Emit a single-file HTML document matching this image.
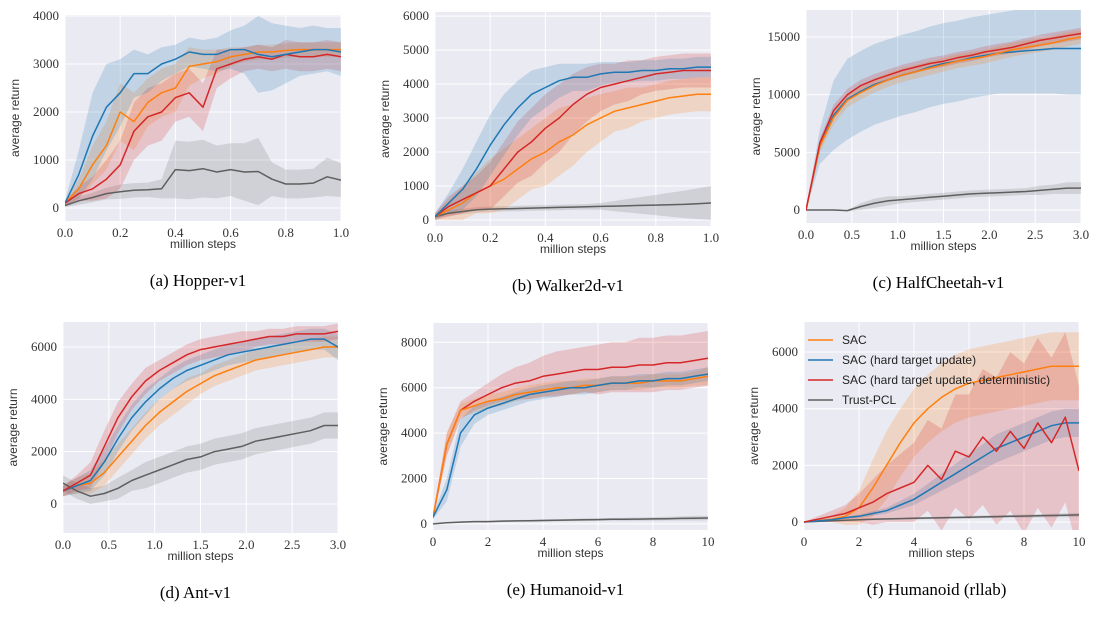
<!DOCTYPE html>
<html><head><meta charset="utf-8"><style>
body{margin:0;background:#fff;}
svg text{font-family:"Liberation Serif",serif;}
.sans{font-family:"Liberation Sans","DejaVu Sans",sans-serif !important;}
</style></head><body>
<svg id="fig" width="1093" height="613" viewBox="0 0 1093 613" xmlns="http://www.w3.org/2000/svg"></svg>
<script>
// ---- data ----
const xA=[0,0.05,0.1,0.15,0.2,0.25,0.3,0.35,0.4,0.45,0.5,0.55,0.6,0.65,0.7,0.75,0.8,0.85,0.9,0.95,1.0];
const xC=[0,0.15,0.3,0.45,0.6,0.75,0.9,1.05,1.2,1.35,1.5,1.65,1.8,1.95,2.1,2.25,2.4,2.55,2.7,2.85,3.0];
const xE=[0,0.5,1,1.5,2,2.5,3,3.5,4,4.5,5,5.5,6,6.5,7,7.5,8,8.5,9,9.5,10];
// Hopper
const hopBlue=[100,700,1500,2100,2400,2800,2800,3000,3100,3250,3200,3200,3300,3300,3200,3150,3200,3250,3300,3300,3250];
const hopBlueS=[50,500,900,900,700,500,400,350,300,300,300,350,400,500,800,700,600,500,500,450,500];
const hopOrange=[100,400,900,1300,2000,1800,2200,2400,2500,2950,3000,3050,3150,3200,3250,3250,3280,3300,3300,3300,3300];
const hopOrangeS=[50,200,400,500,600,600,500,500,500,400,300,250,200,150,150,150,150,150,150,150,150];
const hopRed=[100,300,400,600,900,1600,1900,2000,2300,2400,2100,2900,3000,3100,3150,3100,3200,3150,3150,3200,3150];
const hopRedS=[50,150,250,400,500,600,600,600,500,500,500,400,300,250,250,250,300,300,300,300,300];
const hopGray=[50,150,220,300,340,370,380,400,800,780,820,750,800,750,760,600,500,500,520,650,580];
const hopGrayS=[30,80,100,120,150,150,150,200,600,600,600,550,550,600,700,350,300,300,300,400,350];
// Walker
const walBlue=[100,500,900,1500,2200,2800,3300,3700,3900,4100,4200,4200,4300,4350,4350,4400,4400,4450,4450,4500,4500];
const walBlueS=[100,300,600,800,900,900,800,700,600,500,400,400,350,300,300,300,300,300,300,300,300];
const walOrange=[100,300,500,800,1000,1200,1500,1800,2000,2300,2500,2800,3000,3200,3300,3400,3500,3600,3650,3700,3700];
const walOrangeS=[100,300,500,600,800,900,900,900,1000,1000,900,800,700,600,600,500,500,500,500,500,500];
const walRed=[100,400,600,800,1000,1500,2000,2300,2700,3000,3400,3700,3900,4000,4100,4200,4300,4350,4400,4400,4400];
const walRedS=[100,300,400,500,700,800,900,1000,1000,1000,900,800,700,600,600,500,500,500,500,500,500];
const walGray=[100,200,250,300,320,330,340,350,360,370,380,390,400,410,420,430,440,450,460,480,500];
const walGrayS=[50,80,80,80,80,80,80,80,80,80,80,80,100,150,200,250,300,350,400,450,500];
// HalfCheetah
const chOrange=[0,5500,8000,9500,10200,10800,11300,11700,12000,12300,12600,12900,13100,13300,13600,13900,14100,14300,14500,14800,15000];
const chOrangeS=[0,500,600,600,600,600,600,600,600,600,600,600,600,600,600,600,600,600,600,600,600];
const chBlue=[0,5500,8200,9600,10300,10900,11300,11700,12000,12400,12700,12900,13200,13400,13600,13700,13800,13900,14000,14000,14000];
const chBlueS=[0,1500,3000,3500,3500,3500,3500,3500,3500,3500,3500,3500,3500,3500,3500,3600,3700,3800,3900,4000,4000];
const chRed=[0,5800,8600,10000,10800,11300,11700,12100,12400,12700,12900,13200,13400,13700,13900,14100,14400,14700,14900,15100,15300];
const chRedS=[0,400,500,500,500,500,500,500,500,500,500,500,500,500,500,500,500,500,500,500,500];
const chGray=[0,0,0,-50,300,600,800,900,1000,1100,1200,1300,1400,1450,1500,1550,1600,1700,1800,1900,1900];
const chGrayS=[0,0,0,50,300,400,400,300,300,300,300,300,300,300,300,300,300,400,400,500,500];
// Ant
const antOrange=[500,700,800,1200,1800,2400,3000,3500,3900,4300,4600,4900,5100,5300,5500,5600,5700,5800,5900,6000,6000];
const antOrangeS=[200,300,400,500,500,500,500,500,500,500,400,400,400,400,400,400,400,400,400,400,400];
const antBlue=[500,700,900,1600,2500,3300,3900,4400,4800,5100,5300,5500,5700,5800,5900,6000,6100,6200,6300,6300,6000];
const antBlueS=[200,300,400,500,500,500,500,400,400,400,400,400,400,400,400,400,400,400,400,400,500];
const antRed=[500,800,1100,2200,3300,4100,4700,5100,5400,5700,5900,6000,6100,6200,6300,6400,6400,6500,6500,6500,6600];
const antRedS=[200,300,500,600,600,500,500,400,400,400,400,400,400,400,300,300,300,300,300,300,300];
const antGray=[800,500,300,400,600,900,1100,1300,1500,1700,1800,2000,2100,2200,2400,2500,2600,2700,2800,3000,3000];
const antGrayS=[300,300,300,300,400,400,500,500,500,500,500,500,500,500,500,500,500,500,500,500,500];
// Humanoid
const humOrange=[300,3500,5000,5200,5400,5500,5700,5800,5900,6000,6000,6100,6100,6200,6200,6200,6300,6300,6300,6400,6500];
const humOrangeS=[100,500,300,300,300,300,300,300,300,300,300,300,300,300,300,300,300,300,300,300,400];
const humBlue=[300,1500,4000,4800,5100,5300,5500,5700,5800,5900,6000,6000,6100,6200,6200,6300,6300,6400,6400,6500,6600];
const humBlueS=[100,500,600,400,300,300,300,300,300,300,300,300,300,300,300,300,300,300,300,300,300];
const humRed=[300,3500,5000,5400,5700,6000,6200,6300,6500,6600,6700,6800,6800,6900,6900,7000,7000,7100,7100,7200,7300];
const humRedS=[100,500,400,400,500,600,700,800,900,1000,1000,1000,1100,1100,1100,1200,1200,1200,1200,1200,1200];
const humGray=[0,50,80,100,100,120,130,140,150,160,170,180,190,200,200,210,220,230,240,250,260];
const humGrayS=[20,30,30,30,40,40,40,40,50,50,50,60,60,60,70,70,80,80,90,100,100];
// Humanoid rllab
const rlOrange=[0,50,100,200,500,1200,2000,2800,3500,4000,4400,4700,4900,5000,5100,5200,5300,5400,5500,5500,5500];
const rlOrangeS=[0,50,100,300,600,1000,1200,1200,1200,1200,1200,1200,1200,1200,1200,1200,1200,1200,1200,1200,1200];
const rlBlue=[0,40,80,150,200,300,400,600,800,1100,1400,1700,2000,2300,2600,2800,3000,3200,3400,3500,3500];
const rlBlueS=[0,20,30,40,60,80,100,150,200,250,300,350,400,450,500,500,500,500,500,500,500];
const rlRed=[0,100,200,300,500,700,1000,1200,1400,2000,1500,2500,2300,3000,2500,3200,2600,3500,2800,3700,1800];
const rlRedS=[0,100,200,300,500,800,1000,1200,1400,1600,1800,2000,2200,2400,2600,2800,3000,3000,3000,3000,3000];
const rlGray=[0,20,40,60,80,100,110,120,130,140,150,160,170,180,190,200,210,220,230,240,250];
const rlGrayS=[0,10,20,20,30,30,30,30,40,40,40,40,50,50,50,50,60,60,60,70,70];
// ticks
const tickX1=[0,0.2,0.4,0.6,0.8,1.0], tickX1L=["0.0","0.2","0.4","0.6","0.8","1.0"];
const tickX3=[0,0.5,1,1.5,2,2.5,3], tickX3L=["0.0","0.5","1.0","1.5","2.0","2.5","3.0"];
const tickX10=[0,2,4,6,8,10], tickX10L=["0","2","4","6","8","10"];
const tickYa=[0,1000,2000,3000,4000];
const tickYb=[0,1000,2000,3000,4000,5000,6000];
const tickYc=[0,5000,10000,15000];
const tickYd=[0,2000,4000,6000];
const tickYe=[0,2000,4000,6000,8000];
const tickYf=[0,2000,4000,6000];

const COL={orange:'#ff7f0e',blue:'#1f77b4',red:'#d62728',gray:'#5f5f5f'};
const NS='http://www.w3.org/2000/svg';
const svg=document.getElementById('fig');
const defs=document.createElementNS(NS,'defs');svg.appendChild(defs);
function mk(tag,attrs,parent){const e=document.createElementNS(NS,tag);for(const k in attrs)e.setAttribute(k,attrs[k]);(parent||svg).appendChild(e);return e;}

const panels=[
 {id:'hopper',cap:'(a)  Hopper-v1',L:65,R:341,T:15,B:221,x0:0,x1:1,y0:-270,y1:4020,xs:xA,xt:tickX1,xl:tickX1L,yt:tickYa,
  ser:[['gray',hopGray,hopGrayS],['orange',hopOrange,hopOrangeS],['red',hopRed,hopRedS],['blue',hopBlue,hopBlueS]]},
 {id:'walker',cap:'(b)  Walker2d-v1',L:435,R:711,T:12,B:226,x0:0,x1:1,y0:-176,y1:6120,xs:xA,xt:tickX1,xl:tickX1L,yt:tickYb,
  ser:[['gray',walGray,walGrayS],['orange',walOrange,walOrangeS],['red',walRed,walRedS],['blue',walBlue,walBlueS]]},
 {id:'halfcheetah',cap:'(c)  HalfCheetah-v1',L:806,R:1081,T:10,B:223,x0:0,x1:3,y0:-1127,y1:17340,xs:xC,xt:tickX3,xl:tickX3L,yt:tickYc,
  ser:[['gray',chGray,chGrayS],['blue',chBlue,chBlueS],['orange',chOrange,chOrangeS],['red',chRed,chRedS]]},
 {id:'ant',cap:'(d)  Ant-v1',L:63,R:338,T:322,B:533,x0:0,x1:3,y0:-1108,y1:6955,xs:xC,xt:tickX3,xl:tickX3L,yt:tickYd,
  ser:[['gray',antGray,antGrayS],['orange',antOrange,antOrangeS],['blue',antBlue,antBlueS],['red',antRed,antRedS]]},
 {id:'humanoid',cap:'(e)  Humanoid-v1',L:433,R:708,T:323,B:530,x0:0,x1:10,y0:-270,y1:8850,xs:xE,xt:tickX10,xl:tickX10L,yt:tickYe,
  ser:[['gray',humGray,humGrayS],['red',humRed,humRedS],['orange',humOrange,humOrangeS],['blue',humBlue,humBlueS]]},
 {id:'humanoid-rllab',cap:'(f)  Humanoid (rllab)',L:804,R:1079,T:322,B:530,x0:0,x1:10,y0:-282,y1:7060,xs:xE,xt:tickX10,xl:tickX10L,yt:tickYf,
  ser:[['gray',rlGray,rlGrayS],['orange',rlOrange,rlOrangeS],['blue',rlBlue,rlBlueS],['red',rlRed,rlRedS]]}
];

panels.forEach(p=>{
  const g=mk('g',{});
  
  
  const cp0=mk('clipPath',{id:'clip-'+p.id},defs);
  mk('rect',{x:p.L,y:p.T,width:p.R-p.L,height:p.B-p.T},cp0);
  const sx=v=>p.L+(v-p.x0)/(p.x1-p.x0)*(p.R-p.L);
  const sy=v=>p.B-(v-p.y0)/(p.y1-p.y0)*(p.B-p.T);
  const bg=mk('rect',{x:p.L,y:p.T,width:p.R-p.L,height:p.B-p.T,fill:'#eaeaf2'},g);
  
  
  p.xt.forEach((t,i)=>{
    mk('line',{x1:sx(t),x2:sx(t),y1:p.T,y2:p.B,stroke:'#fff','stroke-width':1},g);
    const tx=mk('text',{x:sx(t),y:p.B+16,'text-anchor':'middle','font-size':13,fill:'#333'},g);
    tx.textContent=p.xl[i];
    
    
  });
  p.yt.forEach(t=>{
    mk('line',{x1:p.L,x2:p.R,y1:sy(t),y2:sy(t),stroke:'#fff','stroke-width':1},g);
    const ty=mk('text',{x:p.L-6,y:sy(t)+4,'text-anchor':'end','font-size':13,fill:'#333'},g);
    ty.textContent=String(t);
    
    
  });
  const dg=mk('g',{'clip-path':'url(#clip-'+p.id+')'},g);
  p.ser.forEach(([c,m,s])=>{
    let up='',lo='';
    p.xs.forEach((x,i)=>{up+=(i?'L':'M')+sx(x).toFixed(1)+','+sy(m[i]+s[i]).toFixed(1);});
    for(let i=p.xs.length-1;i>=0;i--){lo+='L'+sx(p.xs[i]).toFixed(1)+','+sy(m[i]-s[i]).toFixed(1);}
    const band=mk('path',{d:up+lo+'Z',fill:COL[c],'fill-opacity':c==='gray'?0.18:0.2,stroke:'none'},dg);
    
    
  });
  p.ser.forEach(([c,m])=>{
    let d='';
    p.xs.forEach((x,i)=>{d+=(i?'L':'M')+sx(x).toFixed(1)+','+sy(m[i]).toFixed(1);});
    const ln=mk('path',{d:d,fill:'none',stroke:COL[c],'stroke-width':1.5,'stroke-linejoin':'round'},dg);
    
    
  });
  const xt=mk('text',{x:(p.L+p.R)/2,y:p.B+27,'text-anchor':'middle','font-size':12,fill:'#333',class:'sans'},g);
  xt.textContent='million steps';
  
  
  const cy=(p.T+p.B)/2, cx=p.L-46;
  const yt=mk('text',{x:cx,y:cy,'text-anchor':'middle','font-size':12,fill:'#333',class:'sans',transform:`rotate(-90 ${cx} ${cy})`},g);
  yt.textContent='average return';
  
  
  const cp=mk('text',{x:(p.L+p.R)/2-5,y:p.B+65,'text-anchor':'middle','font-size':17,fill:'#000'},g);
  cp.textContent=p.cap;
  
  
});

// legend in panel f
const leg=mk('g',{});


const legItems=[['orange','SAC'],['blue','SAC (hard target update)'],['red','SAC (hard target update, deterministic)'],['gray','Trust-PCL']];
legItems.forEach(([c,t],i)=>{
  const y=340+i*20;
  mk('line',{x1:808,x2:833,y1:y,y2:y,stroke:COL[c],'stroke-width':1.5},leg);
  const tx=mk('text',{x:842,y:y+4,'font-size':12,fill:'#222',class:'sans'},leg);
  tx.textContent=t;
  
  
});
</script>
</body></html>
